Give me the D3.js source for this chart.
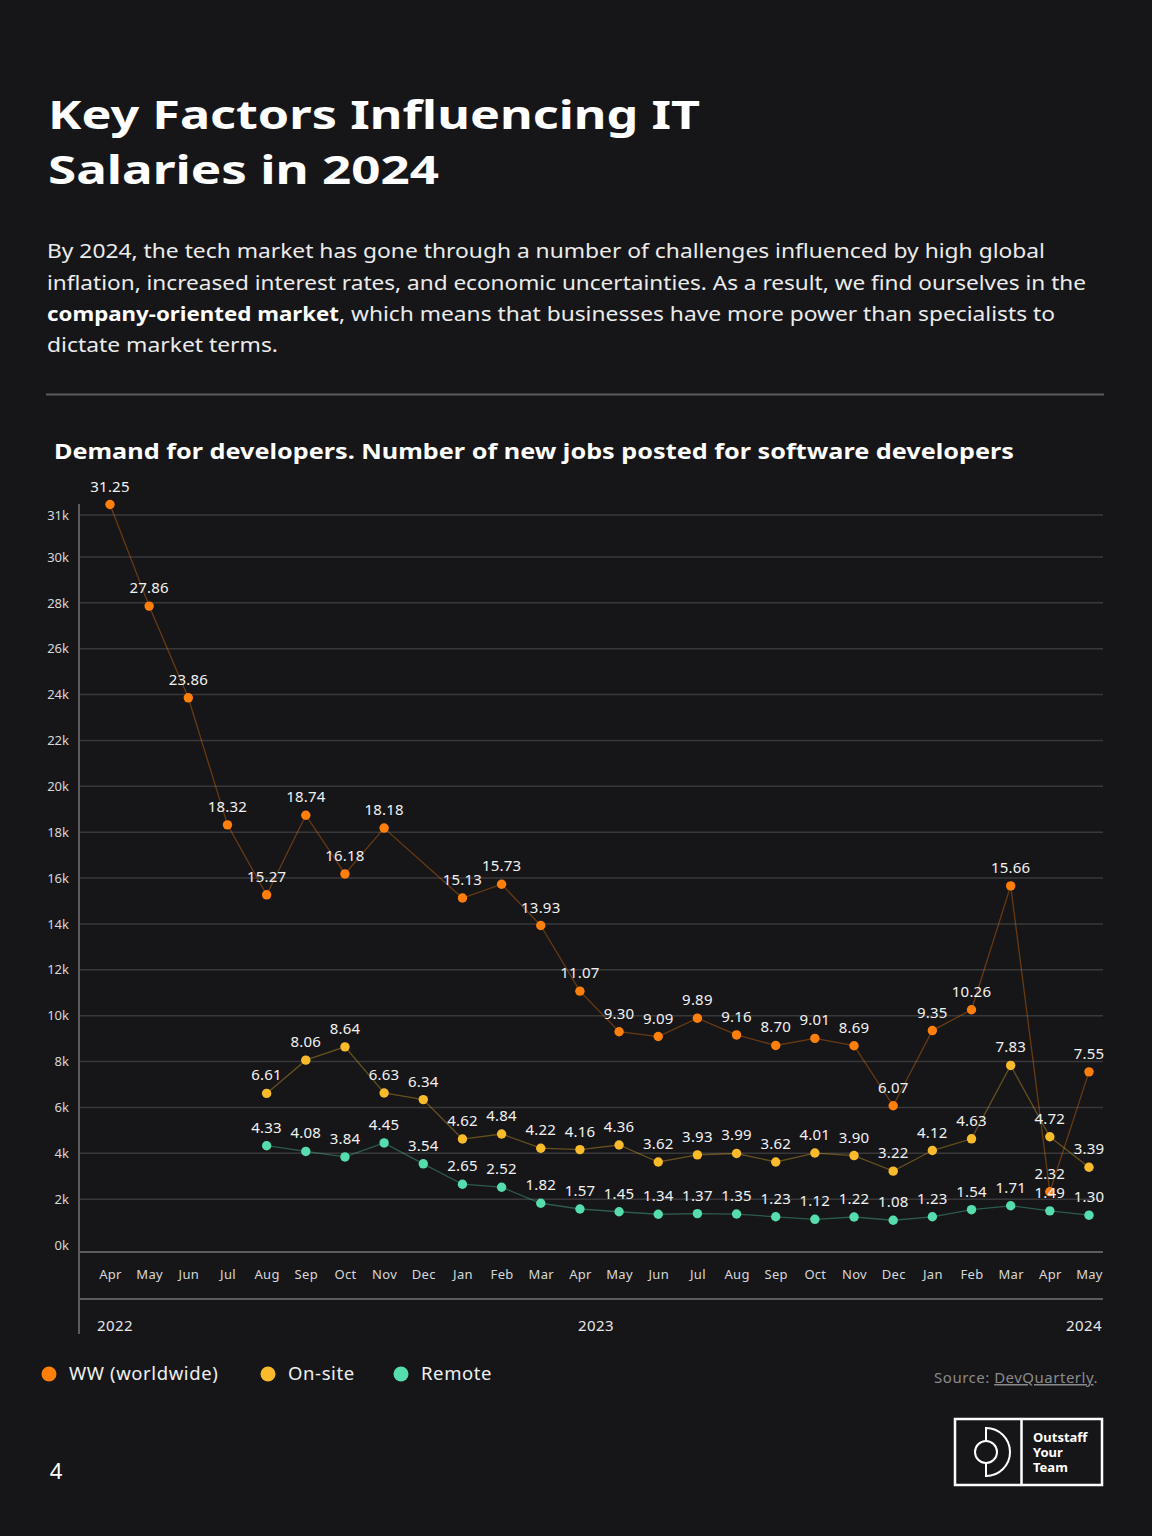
<!DOCTYPE html>
<html><head><meta charset="utf-8">
<script src="https://cdn.jsdelivr.net/npm/d3@7"></script>
<style>
html,body{margin:0;padding:0;background:#161618;}
svg{display:block;}
text{font-family:"Noto Sans",sans-serif;}
</style></head><body>
<svg id="c" width="1152" height="1536"></svg>
<script>
// ---------- data ----------
const months = ["Apr","May","Jun","Jul","Aug","Sep","Oct","Nov","Dec","Jan","Feb","Mar","Apr","May","Jun","Jul","Aug","Sep","Oct","Nov","Dec","Jan","Feb","Mar","Apr","May"];
const years = ["2022","2023","2024"];
const wwValues = [31.25,27.86,23.86,18.32,15.27,18.74,16.18,18.18,null,15.13,15.73,13.93,11.07,9.30,9.09,9.89,9.16,8.70,9.01,8.69,6.07,9.35,10.26,15.66,2.32,7.55];
const onsiteValues = [null,null,null,null,6.61,8.06,8.64,6.63,6.34,4.62,4.84,4.22,4.16,4.36,3.62,3.93,3.99,3.62,4.01,3.90,3.22,4.12,4.63,7.83,4.72,3.39];
const remoteValues = [null,null,null,null,4.33,4.08,3.84,4.45,3.54,2.65,2.52,1.82,1.57,1.45,1.34,1.37,1.35,1.23,1.12,1.22,1.08,1.23,1.54,1.71,1.49,1.30];
const yTickValues = [0,2,4,6,8,10,12,14,16,18,20,22,24,26,28,30,31];
const seriesNames = ["WW (worldwide)","On-site","Remote"];
const seriesColors = ["#ff7f0a","#f9bb2a","#55ddae"];

const titleLines = ["Key Factors Influencing IT","Salaries in 2024"];
const titleWidths = [652, 391];
const chartTitle = "Demand for developers. Number of new jobs posted for software developers";

// ---------- layout ----------
const svg = d3.select("#c");
const W = 1152, H = 1536;
svg.append("rect").attr("width",W).attr("height",H).attr("fill","#161618");

function fit(sel, w){ return sel.attr("textLength",w).attr("lengthAdjust","spacingAndGlyphs"); }

// title
svg.append("g").selectAll("text").data(titleLines).join("text")
  .attr("x",48).attr("y",(d,i)=>129+i*55)
  .attr("fill","#fff").attr("font-size",39).attr("font-weight",700)
  .text(d=>d)
  .each(function(d,i){ fit(d3.select(this), titleWidths[i]); });

// paragraph
const para = svg.append("g").attr("fill","#ececec").attr("font-size",20);
fit(para.append("text").attr("x",47).attr("y",258).text("By 2024, the tech market has gone through a number of challenges influenced by high global"), 998);
fit(para.append("text").attr("x",47).attr("y",290).text("inflation, increased interest rates, and economic uncertainties. As a result, we find ourselves in the"), 1039);
fit(para.append("text").attr("x",47).attr("y",321).attr("font-weight",700).attr("fill","#fff").text("company-oriented market"), 292);
fit(para.append("text").attr("x",339).attr("y",321).text(", which means that businesses have more power than specialists to"), 716);
fit(para.append("text").attr("x",47).attr("y",352).text("dictate market terms."), 231);

svg.append("line").attr("x1",46).attr("x2",1104).attr("y1",394.5).attr("y2",394.5)
  .attr("stroke","#5c5c5e").attr("stroke-width",2);

fit(svg.append("text").attr("x",54).attr("y",459).attr("fill","#fff")
  .attr("font-size",22).attr("font-weight",700).text(chartTitle), 960);

// ---------- chart ----------
const x = d3.scalePoint().domain(d3.range(months.length)).range([110,1089]);
const y = d3.scaleLinear().domain([0,30,31]).range([1245,557,515]);
const left = 79, right = 1103;

// gridlines
svg.append("g").selectAll("line").data(yTickValues.filter(d=>d>0)).join("line")
  .attr("x1",left).attr("x2",right)
  .attr("y1",d=>y(d)).attr("y2",d=>y(d))
  .attr("stroke","#38383a").attr("stroke-width",1.5);

// y axis labels
const yAxis = d3.axisLeft(y).tickValues(yTickValues).tickFormat(d=>d+"k").tickSize(0).tickPadding(10);
const yg = svg.append("g").attr("transform",`translate(${left},0)`).call(yAxis);
yg.select(".domain").remove();
yg.selectAll("text").attr("fill","#d8d8d8").attr("font-size",13).attr("font-family","Noto Sans, sans-serif");

// axis lines
svg.append("line").attr("x1",left).attr("x2",left).attr("y1",504).attr("y2",1334)
  .attr("stroke","#5c5c5e").attr("stroke-width",2);
svg.append("line").attr("x1",left).attr("x2",right).attr("y1",1252).attr("y2",1252)
  .attr("stroke","#5c5c5e").attr("stroke-width",2);
svg.append("line").attr("x1",left).attr("x2",right).attr("y1",1299).attr("y2",1299)
  .attr("stroke","#5c5c5e").attr("stroke-width",2);

// x axis (months)
const xAxis = d3.axisBottom(x).tickFormat(i=>months[i]).tickSize(0).tickPadding(18);
const xg = svg.append("g").attr("transform","translate(0,1252)").call(xAxis);
xg.select(".domain").remove();
xg.selectAll("text").attr("fill","#d8d8d8").attr("font-size",13).attr("letter-spacing",0.3).attr("font-family","Noto Sans, sans-serif");

// years
const yearPos = [{x:97,a:"start"},{x:596,a:"middle"},{x:1102,a:"end"}];
svg.append("g").selectAll("text").data(years).join("text")
  .attr("x",(d,i)=>yearPos[i].x).attr("y",1331).attr("text-anchor",(d,i)=>yearPos[i].a)
  .attr("fill","#e8e8e8").attr("font-size",15).attr("letter-spacing",0.4).text(d=>d);

// series
const allSeries = [wwValues,onsiteValues,remoteValues];
const lineGen = d3.line().x(d=>x(d.i)).y(d=>y(d.v));
allSeries.forEach((vals,k)=>{
  const pts = vals.map((v,i)=>({i,v})).filter(d=>d.v!==null);
  const g = svg.append("g");
  g.append("path").datum(pts).attr("d",lineGen).attr("fill","none")
    .attr("stroke",seriesColors[k]).attr("stroke-opacity",0.35).attr("stroke-width",1.3);
  g.selectAll("circle").data(pts).join("circle")
    .attr("cx",d=>x(d.i)).attr("cy",d=>y(d.v)).attr("r",4.7).attr("fill",seriesColors[k]);
  g.selectAll("text").data(pts).join("text")
    .attr("x",d=>x(d.i)).attr("y",d=>y(d.v)-13).attr("text-anchor","middle")
    .attr("fill","#f2f2f2").attr("font-size",15).attr("letter-spacing",0.2).text(d=>d.v.toFixed(2));
});

// legend
const legX = [49,268,401];
const lg = svg.append("g");
seriesNames.forEach((n,k)=>{
  lg.append("circle").attr("cx",legX[k]).attr("cy",1374).attr("r",7.5).attr("fill",seriesColors[k]);
  lg.append("text").attr("x",legX[k]+20).attr("y",1380).attr("fill","#f0f0f0")
    .attr("font-size",18.5).attr("letter-spacing",0.6).text(n);
});

// source
const src = svg.append("text").attr("x",1098).attr("y",1383).attr("text-anchor","end")
  .attr("fill","#8a8a8c").attr("font-size",15).attr("letter-spacing",0.5);
src.append("tspan").text("Source: ");
src.append("tspan").attr("text-decoration","underline").text("DevQuarterly");
src.append("tspan").text(".");

// page number
svg.append("text").attr("x",56).attr("y",1479).attr("text-anchor","middle")
  .attr("fill","#fff").attr("font-size",22).text("4");

// logo
const logo = svg.append("g").attr("fill","none").attr("stroke","#fff").attr("stroke-width",2.5);
logo.append("rect").attr("x",955).attr("y",1419).attr("width",147).attr("height",66);
logo.append("line").attr("x1",1021.5).attr("x2",1021.5).attr("y1",1419).attr("y2",1485);
logo.append("path").attr("d","M986,1428 A24,24 0 0 1 986,1476 Z").attr("stroke-width",2);
logo.append("circle").attr("cx",986).attr("cy",1452).attr("r",11).attr("fill","#161618").attr("stroke-width",2);
svg.append("g").selectAll("text").data(["Outstaff","Your","Team"]).join("text")
  .attr("x",1033).attr("y",(d,i)=>1442+i*15).attr("fill","#fff")
  .attr("font-size",13).attr("font-weight",700).text(d=>d);
</script>
</body></html>
